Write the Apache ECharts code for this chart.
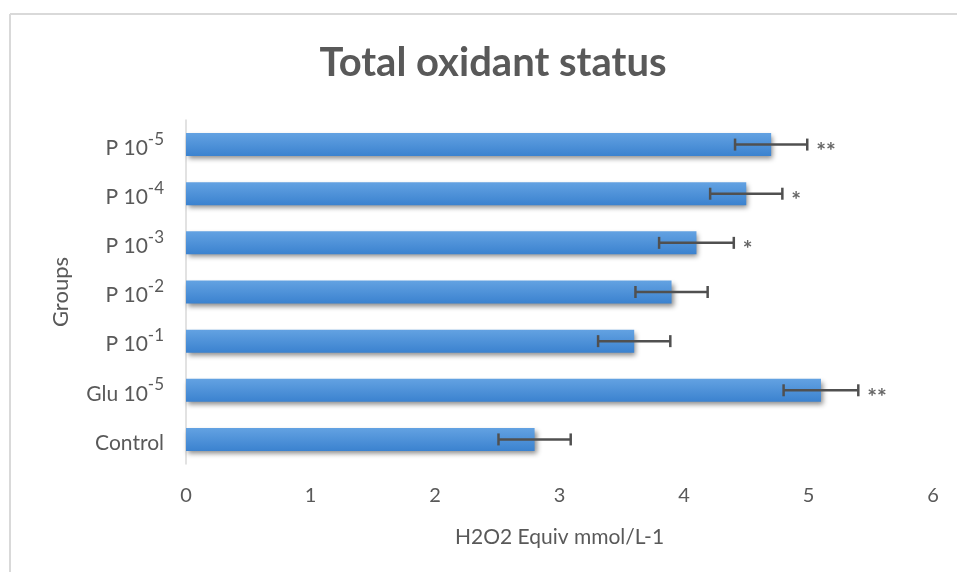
<!DOCTYPE html>
<html>
<head>
<meta charset="utf-8">
<script src="https://cdn.jsdelivr.net/npm/echarts@6/dist/echarts.min.js"></script>
<style>html,body{margin:0;padding:0;background:#fff;}#c{width:957px;height:572px;}</style>
</head>
<body>
<div id="c"></div>
<script>
// Data (bottom to top, as drawn by a category y axis)
var categories = ["Control", "Glu 10-5", "P 10-1", "P 10-2", "P 10-3", "P 10-4", "P 10-5"];
var values = [2.8, 5.1, 3.6, 3.9, 4.1, 4.5, 4.7];
var errors = [0.29, 0.3, 0.29, 0.29, 0.3, 0.29, 0.29];
var significance = ["", "**", "", "", "*", "*", "**"];
var xTicks = [0, 1, 2, 3, 4, 5, 6];

var chart = echarts.init(document.getElementById('c'));
var FONT = 'Lato';
var GRAY = '#595959';

var option = {
  backgroundColor: '#fff',
  animation: false,
  title: {
    text: 'Total oxidant status',
    left: 488, top: 38, textAlign: 'center',
    textStyle: { fontFamily: FONT, fontWeight: 'bold', fontSize: 40, color: GRAY }
  },
  graphic: [
    { type: 'line', shape: { x1: 10, y1: 14, x2: 957, y2: 14 }, style: { stroke: '#d9d9d9', lineWidth: 2 } },
    { type: 'line', shape: { x1: 10, y1: 14, x2: 10, y2: 572 }, style: { stroke: '#d9d9d9', lineWidth: 2 } }
  ],
  grid: { left: 186, right: 24, top: 120, bottom: 108 },
  xAxis: {
    type: 'value', min: xTicks[0], max: xTicks[xTicks.length - 1], interval: 1,
    name: 'H2O2 Equiv mmol/L-1', nameLocation: 'middle', nameGap: 63,
    nameTextStyle: { fontFamily: FONT, fontSize: 21, color: GRAY },
    axisLine: { show: false }, axisTick: { show: false }, splitLine: { show: false },
    axisLabel: { fontFamily: FONT, fontSize: 20, color: GRAY, margin: 22 }
  },
  yAxis: {
    type: 'category', data: categories,
    name: 'Groups', nameLocation: 'middle', nameGap: 114, nameRotate: 90,
    nameTextStyle: { fontFamily: FONT, fontSize: 22, color: GRAY },
    axisLine: { show: true, lineStyle: { color: '#d9d9d9', width: 1.5 } },
    axisTick: { show: false },
    axisLabel: {
      margin: 22, fontFamily: FONT, fontSize: 21, color: GRAY,
      formatter: function (v) {
        var m = v.match(/^(.* 10)(-\d)$/);
        return m ? '{b|' + m[1] + '}{sup|' + m[2] + '}' : '{b|' + v + '}';
      },
      rich: {
        b: { fontFamily: FONT, fontSize: 21, color: GRAY, verticalAlign: 'bottom', lineHeight: 28 },
        sup: { fontFamily: FONT, fontSize: 17, color: GRAY, verticalAlign: 'bottom', padding: [0, 0, 11, 0], lineHeight: 20 }
      }
    }
  },
  series: [
    {
      type: 'bar', data: values, barWidth: 23,
      itemStyle: {
        color: new echarts.graphic.LinearGradient(0, 0, 0, 1, [
          { offset: 0, color: '#63a2e2' }, { offset: 1, color: '#3b82cf' }
        ]),
        shadowColor: 'rgba(0,0,0,0.45)', shadowBlur: 5, shadowOffsetX: 2, shadowOffsetY: 3
      },
      z: 2
    },
    {
      type: 'custom', z: 5,
      data: values.map(function (v, i) { return [i, v, errors[i], significance[i]]; }),
      renderItem: function (params, api) {
        var idx = api.value(0), v = api.value(1), e = api.value(2);
        var sig = significance[idx];
        var lo = api.coord([v - e, idx]);
        var hi = api.coord([v + e, idx]);
        var y = lo[1];
        var cap = 6;
        var st = { stroke: '#505050', lineWidth: 2.5 };
        var children = [
          { type: 'line', shape: { x1: lo[0], y1: y, x2: hi[0], y2: y }, style: st },
          { type: 'line', shape: { x1: lo[0], y1: y - cap, x2: lo[0], y2: y + cap }, style: st },
          { type: 'line', shape: { x1: hi[0], y1: y - cap, x2: hi[0], y2: y + cap }, style: st }
        ];
        if (sig) {
          children.push({
            type: 'text',
            style: { text: sig, x: hi[0] + 9, y: y + 7, fontFamily: FONT, fontWeight: 'bold', fontSize: 23,
                     fill: '#666', textAlign: 'left', textVerticalAlign: 'middle' }
          });
        }
        return { type: 'group', children: children };
      }
    }
  ]
};
chart.setOption(option);
</script>
</body>
</html>
